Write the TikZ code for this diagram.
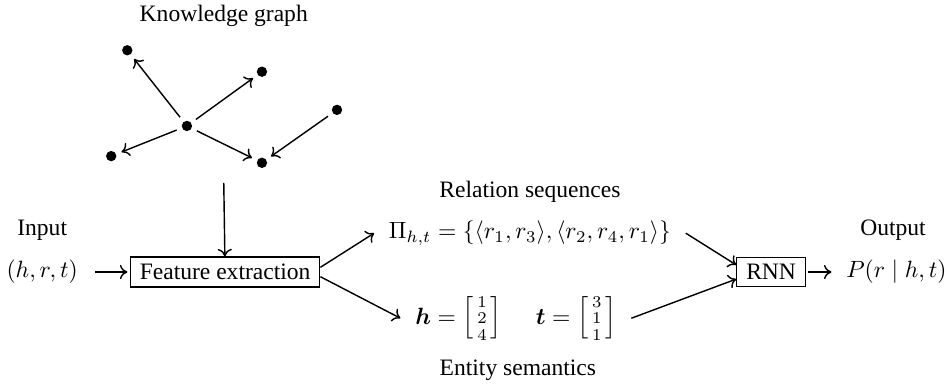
\documentclass[tikz,border=0pt]{standalone}
\usepackage{amsmath,amssymb}
\usepackage[no-math]{fontspec}
\setmainfont{Liberation Serif}
\usetikzlibrary{positioning,arrows.meta}

\begin{document}
\begin{tikzpicture}[>={To[length=3.2pt,width=6pt]},line width=0.6pt,
  box/.style={draw,line width=0.5pt,inner xsep=4pt,inner ysep=3pt},
  kgdot/.style={circle,fill,inner sep=0pt,minimum size=4.4pt,outer sep=2.5pt}]
  \useasboundingbox (0,0) rectangle (14.18,5.79);
  % knowledge graph
  \node (kg) at (3.34,5.55) {Knowledge graph};
  \node[kgdot] (c) at (2.79,3.91) {};
  \node[kgdot] (a) at (1.90,5.04) {};
  \node[kgdot] (b) at (3.91,4.72) {};
  \node[kgdot] (e) at (5.03,4.15) {};
  \node[kgdot] (d) at (1.66,3.46) {};
  \node[kgdot] (f) at (3.91,3.36) {};
  \draw[->] (c) -- (a);
  \draw[->] (c) -- (b);
  \draw[->] (c) -- (d);
  \draw[->] (c) -- (f);
  \draw[->] (e) -- (f);
  \coordinate (kgout) at (3.34,3.06);
  % main row
  \node (in) at (0.63,2.36) {Input};
  \node[inner xsep=7pt] (hrt) at (0.63,1.73) {$(h,r,t)$};
  \node[box] (feat) at (3.36,1.73) {Feature extraction};
  \node (relt) at (7.91,2.93) {Relation sequences};
  \node[inner xsep=6pt] (pi) at (7.91,2.31) {$\Pi_{h,t}=\{\langle r_1,r_3\rangle,\langle r_2,r_4,r_1\rangle\}$};
  \node[inner xsep=6pt] (mat) at (7.70,1.04) {$\boldsymbol{h}=\left[\begin{smallmatrix}1\\[1pt]2\\[1pt]4\end{smallmatrix}\right]\;\quad\boldsymbol{t}=\left[\begin{smallmatrix}3\\[1pt]1\\[1pt]1\end{smallmatrix}\right]$};
  \node (ent) at (7.73,0.27) {Entity semantics};
  \node[box] (rnn) at (11.51,1.73) {RNN};
  \node (outt) at (13.33,2.36) {Output};
  \node[inner xsep=6pt] (p) at (13.38,1.73) {$P(r\mid h,t)$};
  % connectors
  \draw[->] (kgout) -- (feat);
  \draw[->,shorten >=1pt] (hrt) -- (feat);
  \draw[->] ([yshift=2pt]feat.east) -- (pi.west);
  \draw[->] ([yshift=-2pt]feat.east) -- (mat.west);
  \draw[->] (pi.east) -- ([yshift=3pt]rnn.west);
  \draw[->] (mat.east) -- ([yshift=-3pt]rnn.west);
  \draw[->,shorten <=1pt] (rnn) -- (p);
\end{tikzpicture}
\end{document}
